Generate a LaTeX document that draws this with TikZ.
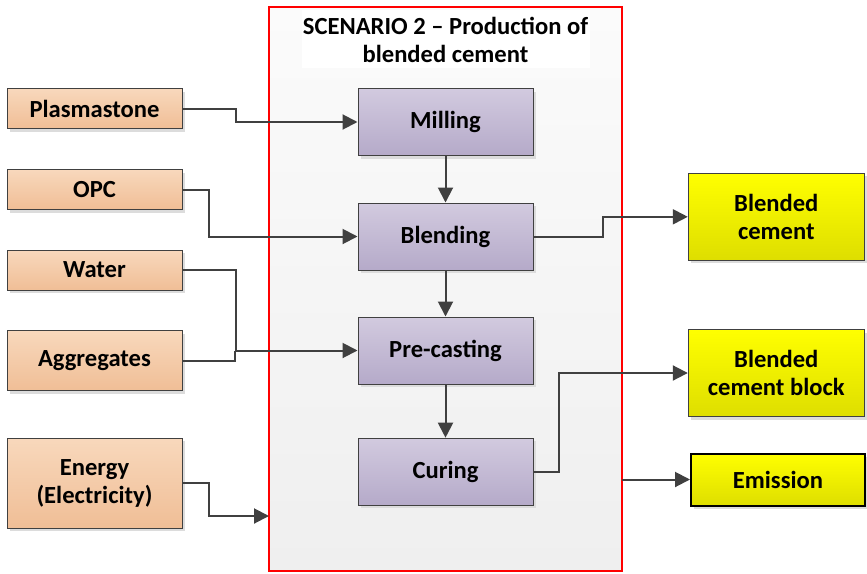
\documentclass[tikz,border=0pt]{standalone}
\usepackage{fontspec}
\setmainfont{Carlito}
\usetikzlibrary{arrows.meta,shadows}
\definecolor{lc}{HTML}{404040}
\definecolor{orT}{HTML}{F8D8BC}
\definecolor{orB}{HTML}{F0BE96}
\definecolor{puT}{HTML}{D2CADF}
\definecolor{puB}{HTML}{B5AAC9}
\definecolor{yeT}{HTML}{FFFF00}
\definecolor{yeB}{HTML}{DEDE00}
\definecolor{bgT}{HTML}{FBFBFB}
\definecolor{bgB}{HTML}{EFEFEF}
\definecolor{shd}{HTML}{DCDCDC}
\tikzset{
  every node/.style={font=\fontsize{24.6}{28}\selectfont\bfseries, align=center, inner sep=0pt},
  shadowed/.style={drop shadow={shadow xshift=3pt, shadow yshift=-3pt, fill=shd, opacity=1}},
  inbox/.style={draw=lc, line width=1pt, top color=orT, bottom color=orB, minimum width=175pt, shadowed},
  procbox/.style={draw=lc, line width=1pt, top color=puT, bottom color=puB, minimum width=175pt, minimum height=67pt, shadowed},
  outbox/.style={draw=lc, line width=1pt, top color=yeT, bottom color=yeB, minimum width=176pt, minimum height=87pt, shadowed},
  conn/.style={draw=lc, line width=2pt, -{Triangle[length=15pt,width=15pt]}},
  plain/.style={draw=lc, line width=2pt},
}
\begin{document}
\begin{tikzpicture}[x=1pt,y=-1pt]
\useasboundingbox (0,0) rectangle (867,573);
% frame
\node[draw=red, line width=2pt, top color=bgT, bottom color=bgB, minimum width=353pt, minimum height=564pt] (frame) at (445.5,289) {};
\fill[white] (302,10) rectangle (590,68);
\node (title) at (445.5,40) {SCENARIO 2 -- Production of\\blended cement};
% inputs
\node[inbox, minimum height=40pt] (plas) at (94.5,108.5) {Plasmastone};
\node[inbox, minimum height=40pt] (opc) at (94.5,189.5) {OPC};
\node[inbox, minimum height=40pt] (water) at (94.5,270) {Water};
\node[inbox, minimum height=60pt] (agg) at (94.5,360.7) {Aggregates};
\node[inbox, minimum height=90pt] (energy) at (94.5,483) {Energy\\(Electricity)};
% process
\node[procbox, minimum height=67pt] (mill) at (445.5,122) {Milling};
\node[procbox] (blend) at (445.5,236.5) {Blending};
\node[procbox] (pre) at (445.5,350.5) {Pre-casting};
\node[procbox] (cur) at (445.5,471.7) {Curing};
% outputs
\node[outbox] (bc) at (776.3,216.8) {Blended\\cement};
\node[outbox] (bcb) at (776.3,373) {Blended\\cement block};
\node[outbox, draw=black, line width=2pt, minimum width=174pt, minimum height=52pt] (em) at (778,479.5) {Emission};
% coordinates
\coordinate (j) at (235,350.5);
\coordinate (fin) at (269,516);
\coordinate (fout) at (622,479.5);
% connectors
\draw[conn] (plas.east) -- ++(53,0) |- (mill.west);
\draw[conn] (opc.east) -- ++(26,0) |- (blend.west);
\draw[conn] (water.east) -- ++(53,0) |- (pre.west);
\draw[plain] (agg.east) -| (j);
\draw[conn] (energy.east) -- ++(26,0) |- (fin);
\draw[conn] (mill) -- (blend);
\draw[conn] (blend) -- (pre);
\draw[conn] (pre) -- (cur);
\draw[conn] (blend.east) -- ++(69,0) |- (bc.west);
\draw[conn] (cur.east) -- ++(25,0) |- (bcb.west);
\draw[conn] (fout) -- (em.west);
\end{tikzpicture}
\end{document}
